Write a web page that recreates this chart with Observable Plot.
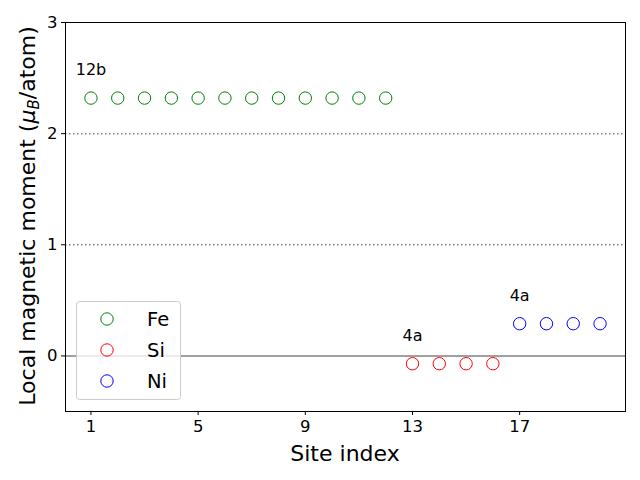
<!DOCTYPE html>
<html>
<head>
<meta charset="utf-8">
<script src="https://cdn.jsdelivr.net/npm/d3@7"></script>
<script src="https://cdn.jsdelivr.net/npm/@observablehq/plot@0.6"></script>
<style>
  html, body { margin: 0; padding: 0; background: white; }
  svg { font-family: "DejaVu Sans", sans-serif; }
</style>
</head>
<body>
<div id="chart"></div>
<script>
const feSites = [1,2,3,4,5,6,7,8,9,10,11,12];
const feValues = [2.32,2.32,2.32,2.32,2.32,2.32,2.32,2.32,2.32,2.32,2.32,2.32];
const siSites = [13,14,15,16];
const siValues = [-0.07,-0.07,-0.07,-0.07];
const niSites = [17,18,19,20];
const niValues = [0.29,0.29,0.29,0.29];
const xTicks = [1,5,9,13,17];
const yTicks = [0,1,2,3];
const wyckoffLabels = ["12b","4a","4a"];
const wyckoffX = [1,13,17];
const wyckoffY = [2.57,0.18,0.54];
const seriesNames = ["Fe","Si","Ni"];
const seriesColors = ["green","red","blue"];

const fe = feSites.map((s,i)=>({site:s, m:feValues[i]}));
const si = siSites.map((s,i)=>({site:s, m:siValues[i]}));
const ni = niSites.map((s,i)=>({site:s, m:niValues[i]}));
const labels = wyckoffLabels.map((t,i)=>({t, x:wyckoffX[i], y:wyckoffY[i]}));

const chart = Plot.plot({
  width: 640, height: 480,
  marginLeft: 65, marginRight: 15, marginTop: 22, marginBottom: 69,
  x: {domain: [0.05, 20.95]},
  y: {domain: [-0.5, 3]},
  style: {fontFamily: "DejaVu Sans, sans-serif", background: "white"},
  marks: [
    Plot.ruleY([1,2], {stroke: "#808080", strokeWidth: 1.5, strokeDasharray: "1.5,2.5"}),
    Plot.ruleY([0], {stroke: "#808080", strokeWidth: 1.5}),
    Plot.dot(fe, {x: "site", y: "m", r: 6.2, stroke: seriesColors[0], fill: "none", strokeWidth: 1}),
    Plot.dot(si, {x: "site", y: "m", r: 6.2, stroke: seriesColors[1], fill: "none", strokeWidth: 1}),
    Plot.dot(ni, {x: "site", y: "m", r: 6.2, stroke: seriesColors[2], fill: "none", strokeWidth: 1}),
    Plot.text(labels, {x: "x", y: "y", text: "t", fontSize: 16, fill: "black"}),
    Plot.axisX({ticks: xTicks, tickSize: 4, tickPadding: 5, fontSize: 16.5, tickFormat: d3.format("d"), label: null}),
    Plot.axisY({ticks: yTicks, tickSize: 4, tickPadding: 4, fontSize: 16.5, tickFormat: d3.format("d"), label: null}),
    Plot.frame({stroke: "black", strokeWidth: 1})
  ]
});
document.getElementById("chart").appendChild(chart);

const svg = d3.select(chart);
// axis labels
svg.append("text").attr("x", 345).attr("y", 461).attr("text-anchor", "middle")
  .attr("font-size", 22).attr("fill", "black").text("Site index");
const yl = svg.append("text").attr("transform", "translate(35,216) rotate(-90)")
  .attr("text-anchor", "middle").attr("font-size", 22).attr("fill", "black");
yl.append("tspan").text("Local magnetic moment (");
yl.append("tspan").attr("font-style", "italic").text("μ");
yl.append("tspan").attr("font-style", "italic").attr("font-size", 15).attr("dy", 4).text("B");
yl.append("tspan").attr("dy", -4).text("/atom)");

// legend
const lg = svg.append("g");
lg.append("rect").attr("x", 76.5).attr("y", 301.5).attr("width", 104).attr("height", 98)
  .attr("rx", 3).attr("fill", "white").attr("fill-opacity", 0.8).attr("stroke", "#cccccc");
seriesNames.forEach((n, i) => {
  const cy = 319 + i * 31;
  lg.append("circle").attr("cx", 107).attr("cy", cy).attr("r", 6.2)
    .attr("fill", "none").attr("stroke", seriesColors[i]).attr("stroke-width", 1);
  lg.append("text").attr("x", 147).attr("y", cy + 7).attr("text-anchor", "start")
    .attr("font-size", 19.5).attr("fill", "black").text(n);
});
</script>
</body>
</html>
